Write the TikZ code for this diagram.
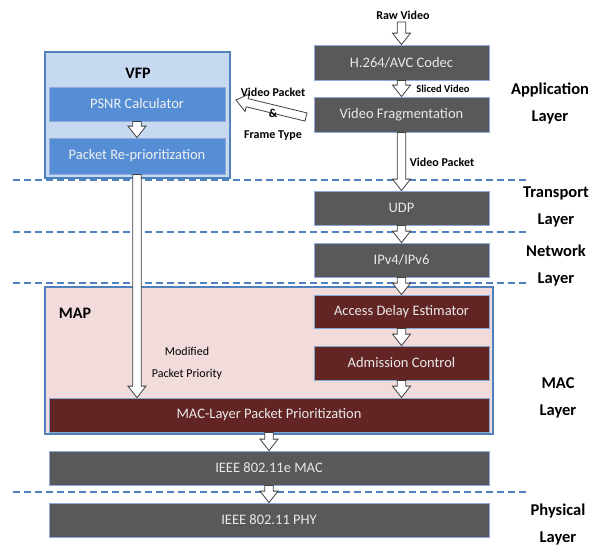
\documentclass[tikz,border=0pt]{standalone}
\usepackage{fontspec}
\setmainfont{Carlito}
\usetikzlibrary{calc}
\definecolor{boxgrey}{HTML}{595959}
\definecolor{boxred}{HTML}{632523}
\definecolor{boxblue}{HTML}{558ED5}
\definecolor{vfpfill}{HTML}{C6D9F1}
\definecolor{mapfill}{HTML}{F2DCDB}
\definecolor{lineblue}{HTML}{4F81BD}
\definecolor{edgeblue}{HTML}{8EAADB}
\definecolor{boxtext}{HTML}{E8E8E8}
\definecolor{arrowedge}{HTML}{404040}
\tikzset{
  greybox/.style={draw=edgeblue, line width=0.8pt, fill=boxgrey, text=boxtext, font=\fontsize{14.5}{17}\selectfont, inner sep=0pt},
  redbox/.style={draw=lineblue!70, line width=0.8pt, fill=boxred, text=boxtext, font=\fontsize{14.5}{17}\selectfont, inner sep=0pt},
  bluebox/.style={draw=edgeblue, line width=0.8pt, fill=boxblue, text=white!94!black, font=\fontsize{14.5}{17}\selectfont, inner sep=0pt},
  groupbox/.style={draw=lineblue, line width=1.3pt, inner sep=0pt},
  layerlabel/.style={font=\bfseries\fontsize{16.5}{27}\selectfont, align=center, inner sep=0pt},
  smalllabel/.style={font=\bfseries\fontsize{12}{14}\selectfont, inner sep=0pt},
  titlelabel/.style={font=\bfseries\fontsize{16}{19}\selectfont, inner sep=0pt},
  harrow/.style={fill=white, draw=arrowedge, line width=0.8pt, line join=miter},
  layerline/.style={draw=lineblue, line width=2.8pt, dash pattern=on 7pt off 4pt}
}
\newcommand{\hollowarrow}[2]{%
  \path ($(#2)!11.5pt!(#1)$) coordinate (haH);
  \draw[harrow] ($(#1)!4.2pt!90:(#2)$) -- ($(haH)!4.2pt!90:(#2)$) -- ($(haH)!9pt!90:(#2)$) -- (#2)
    -- ($(haH)!9pt!-90:(#2)$) -- ($(haH)!4.2pt!-90:(#2)$) -- ($(#1)!4.2pt!-90:(#2)$) -- cycle;
}
\begin{document}
\begin{tikzpicture}[x=1pt, y=-1pt]
\useasboundingbox (0,0) rectangle (604,550);
% layer separators
\coordinate (l1a) at (13,180); \coordinate (l1b) at (529,180);
\coordinate (l2a) at (13,232); \coordinate (l2b) at (529,232);
\coordinate (l3a) at (13,283); \coordinate (l3b) at (529,283);
\coordinate (l4a) at (13,492); \coordinate (l4b) at (529,492);
\draw[layerline] (l1a) -- (l1b);
\draw[layerline] (l2a) -- (l2b);
\draw[layerline] (l3a) -- (l3b);
\draw[layerline] (l4a) -- (l4b);
% group boxes
\node[groupbox, fill=vfpfill, minimum width=185pt, minimum height=126pt] (vfp) at (137.5,115) {};
\node[groupbox, fill=mapfill, minimum width=448pt, minimum height=147pt] (map) at (269,360.5) {};
\node[titlelabel] (vfptitle) at (138,73) {VFP};
\node[titlelabel] (maptitle) at (75,313) {MAP};
% boxes
\node[greybox, minimum width=175pt, minimum height=35pt] (h264) at (401.5,62.5) {H.264/AVC Codec};
\node[greybox, minimum width=175pt, minimum height=35pt] (vf) at (401.5,114.5) {Video Fragmentation};
\node[greybox, minimum width=175pt, minimum height=34pt] (udp) at (401.5,208) {UDP};
\node[greybox, minimum width=175pt, minimum height=34pt] (ip) at (401.5,260) {IPv4/IPv6};
\node[redbox, minimum width=175pt, minimum height=33pt] (ade) at (401.5,311.5) {Access Delay Estimator};
\node[redbox, minimum width=175pt, minimum height=34pt] (adm) at (401.5,363) {Admission Control};
\node[redbox, minimum width=440pt, minimum height=34pt] (macp) at (269,415) {MAC-Layer Packet Prioritization};
\node[greybox, minimum width=440pt, minimum height=34pt] (mac) at (269,468) {IEEE 802.11e MAC};
\node[greybox, minimum width=440pt, minimum height=34pt] (phy) at (269,520) {IEEE 802.11 PHY};
\node[bluebox, minimum width=176pt, minimum height=34pt] (psnr) at (137,104) {PSNR Calculator};
\node[bluebox, minimum width=176pt, minimum height=36pt] (prio) at (137,156) {Packet Re-prioritization};
% arrows
\coordinate (rawtail) at (401.5,22);
\coordinate (admin) at (macp.north -| adm.south);
\coordinate (prioin) at (macp.north -| prio.south);
\coordinate (fbtail) at (306,117);
\coordinate (fbtip) at (236,100);
\hollowarrow{rawtail}{h264.north}
\hollowarrow{h264.south}{vf.north}
\hollowarrow{vf.south}{udp.north}
\hollowarrow{udp.south}{ip.north}
\hollowarrow{ip.south}{ade.north}
\hollowarrow{ade.south}{adm.north}
\hollowarrow{adm.south}{admin}
\hollowarrow{macp.south}{mac.north}
\hollowarrow{mac.south}{phy.north}
\hollowarrow{psnr.south}{prio.north}
\hollowarrow{prio.south}{prioin}
\hollowarrow{fbtail}{fbtip}
% labels
\node[font=\bfseries\fontsize{12}{14}\selectfont, inner sep=0pt] (raw) at (403,15) {Raw Video};
\node[font=\bfseries\fontsize{10.5}{12}\selectfont, inner sep=0pt] (sliced) at (443,89) {Sliced Video};
\node[smalllabel] (vpkt) at (442,162) {Video Packet};
\node[smalllabel] (vp1) at (273,92) {Video Packet};
\node[smalllabel] (vp2) at (273,113) {\&};
\node[smalllabel] (vp3) at (273,136) {Frame Type};
\node[font=\fontsize{12}{22}\selectfont, align=center, inner sep=0pt] (modp) at (187,363) {Modified\\Packet Priority};
\node[layerlabel] (appl) at (550,103.5) {Application\\Layer};
\node[layerlabel] (tranl) at (556,206.5) {Transport\\Layer};
\node[layerlabel] (netl) at (556,265) {Network\\Layer};
\node[layerlabel] (macl) at (558,397.5) {MAC\\Layer};
\node[layerlabel] (phyl) at (558,524) {Physical\\Layer};
\end{tikzpicture}
\end{document}
